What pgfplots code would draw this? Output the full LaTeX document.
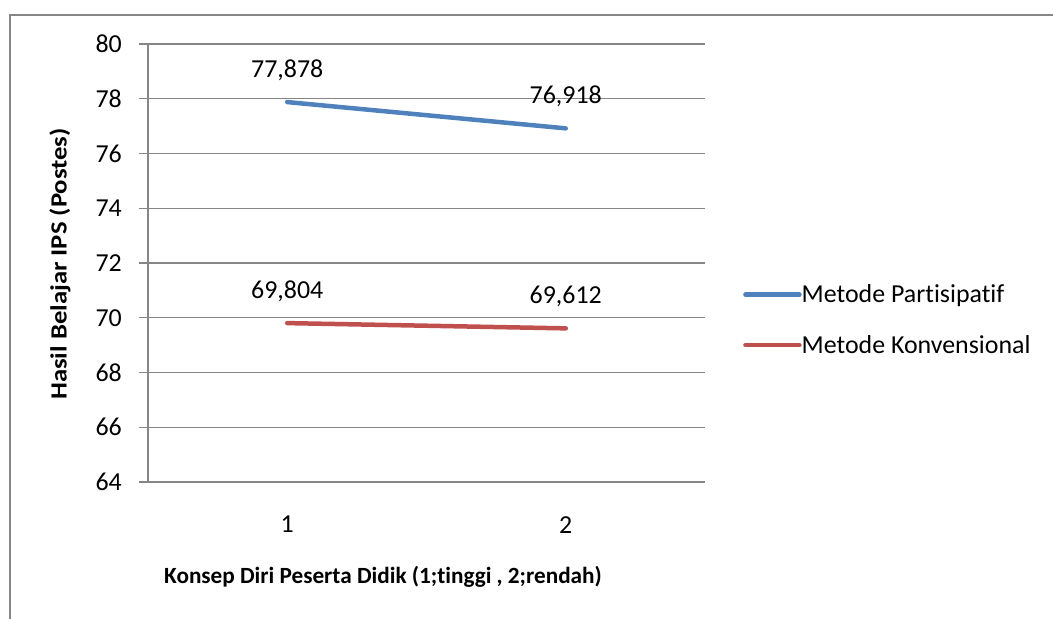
\documentclass[border=0pt]{standalone}
\usepackage{pgfplots}
\pgfplotsset{compat=1.18}
\usepackage{fontspec}
\setmainfont{Carlito}[Ligatures={NoCommon}]
\definecolor{gridgray}{HTML}{868686}
\definecolor{pblue}{HTML}{4F81BD}
\definecolor{pred}{HTML}{C0504D}
\pgfplotstableread{
x y lab
1 77.878 77,878
2 76.918 76,918
}\partisipatif
\pgfplotstableread{
x y lab
1 69.804 69,804
2 69.612 69,612
}\konvensional
\begin{document}
\begin{tikzpicture}[x=1bp,y=1bp]
\useasboundingbox (0,0) rectangle (1053,619);
\draw[gridgray, line width=2.5bp] (10,-3) -- (10,604) -- (1056,604);
\begin{axis}[
  at={(148bp,137bp)}, anchor=south west, scale only axis,
  width=557bp, height=438bp,
  xmin=0.5, xmax=2.5, ymin=64, ymax=80,
  xtick={1,2}, ytick={64,66,...,80},
  axis x line=bottom, axis y line=left,
  axis line style={draw=gridgray, line width=1.2bp, -},
  ymajorgrids, grid style={draw=gridgray, line width=1.2bp},
  tick align=outside, major tick length=9bp,
  ytick style={draw=gridgray, line width=1.2bp},
  xtick style={draw=none},
  font=\fontsize{26}{30}\selectfont,
  /pgf/number format/assume math mode=true,
  yticklabel style={anchor=east, inner sep=0pt, xshift=-17bp},
  xticklabel style={anchor=north, inner sep=0pt, yshift=-25bp},
  nodes near coords,
  point meta=explicit symbolic,
  every node near coord/.append style={anchor=base, yshift=25bp, inner sep=0pt, font=\fontsize{26}{30}\selectfont, text=black},
  legend style={draw=none, fill=none, at={(rel axis cs:1.0,0.37)}, anchor=west, xshift=38bp,
    font=\fontsize{26}{30}\selectfont, row sep=31bp, inner sep=0pt,
    nodes={inner sep=0pt}},
  legend cell align=left,
  legend image code/.code={\draw[#1, line width=4.5bp, line cap=round] (0bp,0bp) -- (54bp,0bp);},
  /tikz/every even column/.append style={column sep=6bp},
]
\addplot[pblue, line width=4.5bp, line cap=round, no markers] table[x=x, y=y, meta=lab] {\partisipatif};
\addlegendentry{Metode Partisipatif}
\addplot[pred, line width=4.5bp, line cap=round, no markers] table[x=x, y=y, meta=lab] {\konvensional};
\addlegendentry{Metode Konvensional}
\end{axis}
\node[rotate=90, font=\bfseries\fontsize{23.3}{28}\selectfont] at (60,355) {\scalebox{1.15}[1]{Hasil Belajar IPS (Postes)}};
\node[font=\bfseries\fontsize{23.3}{28}\selectfont] at (383,42) {Konsep Diri Peserta Didik (1;tinggi , 2;rendah)};
\end{tikzpicture}
\end{document}
